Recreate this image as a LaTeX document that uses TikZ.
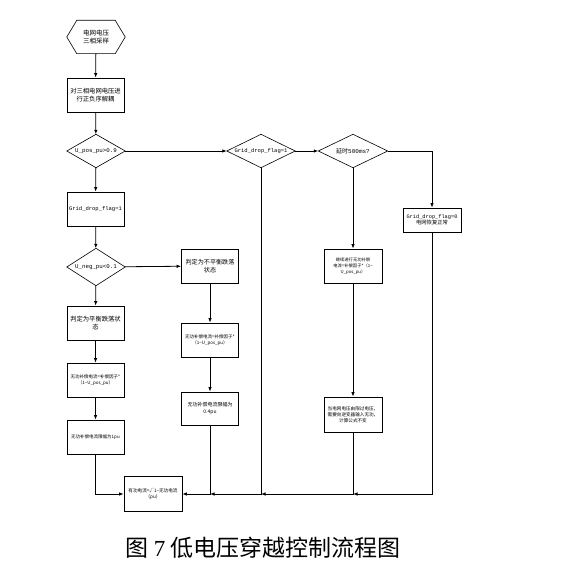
\documentclass[tikz,border=0pt]{standalone}
\usepackage{fontspec}
\newfontfamily\cjk{Noto Sans CJK SC}
\newfontfamily\mono{Liberation Mono}
\newfontfamily\capserif{Liberation Serif}
\usetikzlibrary{shapes.geometric,arrows.meta}
\newcommand{\fs}[1]{\fontsize{#1}{#1}\selectfont}
\begin{document}
\begin{tikzpicture}[x=1pt,y=-1pt,
  every node/.style={font=\cjk\fs{6.3}, align=center, inner sep=0.5pt},
  box/.style={draw, line width=0.8pt, minimum width=57pt, minimum height=34pt, text width=56pt},
  dia/.style={rectangle, inner sep=0pt, minimum width=58pt, minimum height=33pt},
  dline/.style={line width=0.6pt, line join=miter},
  lat/.style={font=\mono\fs{5.5}},
  small/.style={font=\cjk\fontsize{4.5}{5.8}\selectfont},
  arr/.style={line width=0.8pt, -{Latex[length=4.5pt,width=3.5pt]}}]
\useasboundingbox (0,0) rectangle (571,580);
% start hexagon
\node (hex) at (96,37) [minimum width=58pt, minimum height=33pt, font=\cjk\fontsize{6.5}{8}\selectfont] {电网电压\\三相采样};
\draw[dline] (hex.west) -- ([xshift=10pt]hex.north west) -- ([xshift=-10pt]hex.north east) -- (hex.east) -- ([xshift=-10pt]hex.south east) -- ([xshift=10pt]hex.south west) -- cycle;
\node[box, font=\cjk\fontsize{6.3}{8}\selectfont] (b1) at (95.5,95) {对三相电网电压进\\行正负序解耦};
\node[dia, font=\mono\fs{5.8}] (d1) at (96,151) {U\_pos\_pu>0.9};
\node[dia, lat, minimum width=68pt] (d2) at (261,151) {Grid\_drop\_flag=1};
\node[dia, minimum width=69pt, font=\cjk\fs{6}] (d3) at (353,151) {延时{\mono 500ms?}};
\node[box, minimum width=58pt, minimum height=24pt, font=\cjk\fontsize{5.3}{6.5}\selectfont] (f0) at (432,220) {{\mono Grid\_drop\_flag=0}\\电网恢复正常};
\node[box, lat] (b2) at (95.5,209) {Grid\_drop\_flag=1};
\node[dia, minimum height=37pt, font=\mono\fs{5.8}] (d4) at (96,267) {U\_neg\_pu<0.1};
\foreach \d in {d1,d2,d3,d4}
  \draw[dline] (\d.north) -- (\d.east) -- (\d.south) -- (\d.west) -- cycle;
\node[box, minimum width=56pt, font=\cjk\fontsize{6.1}{8}\selectfont] (b3) at (210,266) {判定为不平衡跌落\\状态};
\node[box, minimum width=56pt, small] (b4) at (210,340) {无功补偿电流=补偿因子*\\（1−U\_pos\_pu）};
\node[box, minimum width=56pt, minimum height=33pt, font=\cjk\fontsize{5}{6.5}\selectfont] (b5) at (210,408.5) {无功补偿电流限幅为\\0.4pu};
\node[box, font=\cjk\fontsize{6.3}{8}\selectfont] (b6) at (95.5,323) {判定为平衡跌落状\\态};
\node[box, small] (b7) at (95.5,380) {无功补偿电流=补偿因子*\\（1−U\_pos\_pu）};
\node[box, small] (b8) at (95.5,437) {无功补偿电流限幅为1pu};
\node[box, minimum width=58pt, font=\cjk\fontsize{4.3}{5.8}\selectfont] (b9) at (353,266) {继续进行无功补偿\\电流=补偿因子*（1−\\U\_pos\_pu）};
\node[box, minimum width=58pt, minimum height=35pt, font=\cjk\fontsize{4.6}{6}\selectfont] (b10) at (353,414.5) {当电网电压由限过电压，\\需要向逆变器输入无功，\\计算公式不变};
\node[box, minimum width=58pt, minimum height=35pt, font=\cjk\fontsize{4.6}{6}\selectfont] (fin) at (153,494) {有功电流=√1−无功电流\\（pu）};
% junction coordinates on bottom line
\coordinate (j1) at (210,494);
\coordinate (j2) at (261,494);
\coordinate (j3) at (353,494);
\coordinate (j4) at (432,494);
\coordinate (k0) at (95.5,494);
\coordinate (kr) at (432,151);
% connectors
\draw[arr] (hex) -- (b1);
\draw[arr] (b1) -- (d1);
\draw[arr] (d1) -- (d2);
\draw[arr] (d2) -- (d3);
\draw[arr] (d3.east) -- (kr) -- (f0);
\draw[arr] (d1) -- (b2);
\draw[arr] (b2) -- (d4);
\draw[arr] (d4) -- (b3);
\draw[arr] (d4) -- (b6);
\draw[arr] (b6) -- (b7);
\draw[arr] (b7) -- (b8);
\draw[arr] (b3) -- (b4);
\draw[arr] (b4) -- (b5);
\draw[arr] (d3) -- (b9);
\draw[arr] (b9) -- (b10);
\draw[arr] (b8.south) -- (k0) -- (fin.west);
\draw[arr] (b5.south) -- (j1) -- (fin.east);
\draw[arr] (d2.south) -- (j2) -- (j1);
\draw[arr] (b10.south) -- (j3) -- (j2);
\draw[arr] (f0.south) -- (j4) -- (j3);
% caption
\node (cap) at (263,548) [font=\cjk\fontsize{23}{26}\selectfont] {图 {\capserif 7} 低电压穿越控制流程图};
\end{tikzpicture}
\end{document}
